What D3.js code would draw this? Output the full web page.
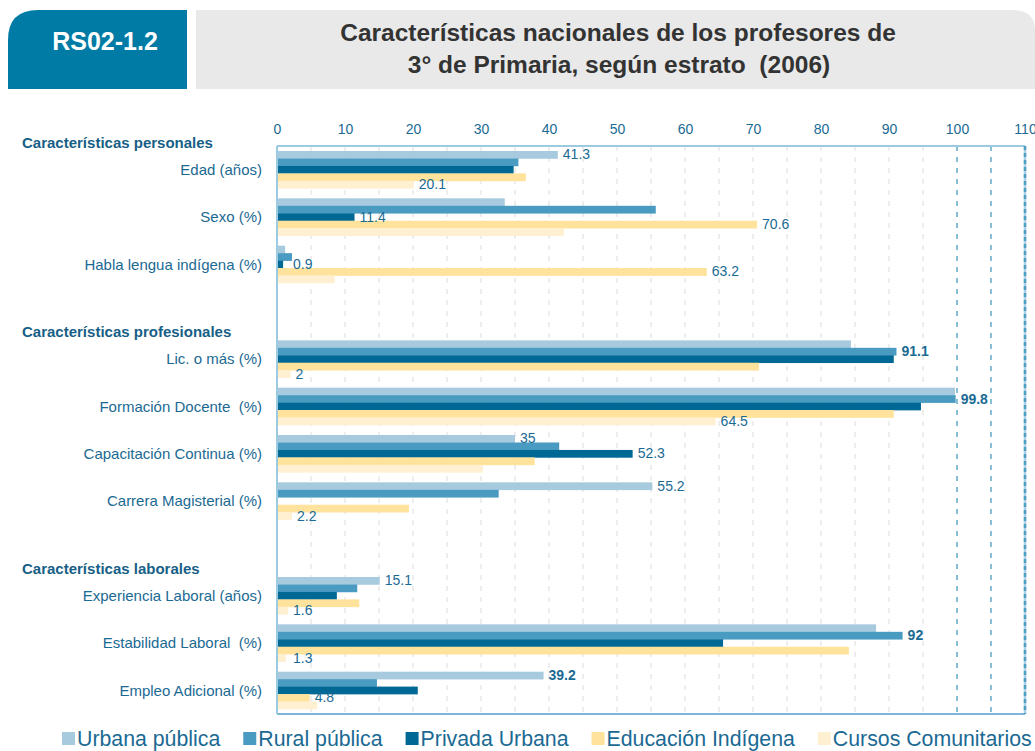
<!DOCTYPE html>
<html lang="es">
<head>
<meta charset="UTF-8">
<title>RS02-1.2</title>
<script src="https://d3js.org/d3.v7.min.js"></script>
<style>
  body { margin: 0; background: #fff; }
  svg text { font-family: "Liberation Sans", Arial, Helvetica, sans-serif; }
</style>
</head>
<body>
<svg id="chart" width="1035" height="751"></svg>
<script>
// ---- data ----
const sections = ["Características personales", "Características profesionales", "Características laborales"];
const categories = [
  "Edad (años)", "Sexo (%)", "Habla lengua indígena (%)",
  "Lic. o más (%)", "Formación Docente  (%)", "Capacitación Continua (%)", "Carrera Magisterial (%)",
  "Experiencia Laboral (años)", "Estabilidad Laboral  (%)", "Empleo Adicional (%)"
];
const categorySection = [0, 0, 0, 1, 1, 1, 1, 2, 2, 2];

const seriesNames = ["Urbana pública", "Rural pública", "Privada Urbana", "Educación Indígena", "Cursos Comunitarios"];
const seriesColors = ["#a7cadf", "#4a9bc1", "#006894", "#ffe29b", "#fff0d1"];

const urbana   = [41.3, 33.5, 1.2, 84.4, 99.7, 35.0, 55.2, 15.1, 88.1, 39.2];
const rural    = [35.5, 55.7, 2.2, 91.1, 99.8, 41.5, 32.6, 11.8, 92.0, 14.7];
const privada  = [34.8, 11.4, 0.9, 90.7, 94.7, 52.3, null, 8.8, 65.6, 20.7];
const indigena = [36.6, 70.6, 63.2, 70.9, 90.7, 37.9, 19.4, 12.1, 84.1, 4.8];
const cursos   = [20.1, 42.2, 8.5, 2.0, 64.5, 30.3, 2.2, 1.6, 1.3, 5.9];
const seriesValues = [urbana, rural, privada, indigena, cursos];

// which series carry a value label in each category
const labelledSeries = [[0, 4], [3, 2], [3, 2], [1, 4], [1, 4], [0, 2], [0, 4], [0, 4], [1, 4], [0, 3]];
const boldLabels = ["91.1", "99.8", "92", "39.2"];

const xTicks = d3.range(0, 111, 10);
const gridTicks = d3.range(5, 110, 5);

// ---- layout ----
const svg = d3.select("#chart");
const textBlue = "#1b6a93";
const plot = { left: 277, right: 1025, top: 146, bottom: 714 };

// header
svg.append("path")
  .attr("d", "M8,89 L8,40 Q8,10 38,10 L187,10 L187,89 Z")
  .attr("fill", "#007ba5");
svg.append("text")
  .attr("x", 105).attr("y", 50)
  .attr("text-anchor", "middle")
  .attr("font-size", "25px").attr("font-weight", "bold")
  .attr("fill", "#fff")
  .text("RS02-1.2");

svg.append("path")
  .attr("d", "M196,10 L1012,10 Q1035,10 1035,30 L1035,89 L196,89 Z")
  .attr("fill", "#e8e9e8");
svg.append("text")
  .attr("x", 618).attr("y", 41)
  .attr("text-anchor", "middle")
  .attr("font-size", "24.5px").attr("font-weight", "bold")
  .attr("fill", "#333")
  .text("Características nacionales de los profesores de");
svg.append("text")
  .attr("x", 619).attr("y", 73)
  .attr("text-anchor", "middle")
  .attr("font-size", "24.5px").attr("font-weight", "bold")
  .attr("fill", "#333")
  .attr("xml:space", "preserve")
  .style("white-space", "pre")
  .text("3° de Primaria, según estrato  (2006)");

// slots: categories plus one empty slot before each new section
const slots = [];
categories.forEach((c, i) => {
  if (i > 0 && categorySection[i] !== categorySection[i - 1]) slots.push("gap" + i);
  slots.push(c);
});

const x = d3.scaleLinear().domain([0, 110]).range([plot.left, plot.right]);
const y = d3.scaleBand().domain(slots).range([plot.top, plot.bottom])
  .paddingInner(0.212).paddingOuter(0.106);
const ySub = d3.scaleBand().domain(d3.range(seriesNames.length)).range([0, y.bandwidth()]);

// grid
svg.append("g").selectAll("line")
  .data(gridTicks)
  .enter().append("line")
  .attr("x1", d => x(d)).attr("x2", d => x(d))
  .attr("y1", plot.top).attr("y2", plot.bottom)
  .attr("stroke", d => d >= 100 ? "#4a9bc1" : "#dcdcdc")
  .attr("stroke-width", d => d >= 100 ? 1.3 : 1)
  .attr("stroke-dasharray", "5,6");

// bars
const barData = [];
categories.forEach((c, i) => {
  seriesValues.forEach((vals, s) => {
    if (vals[i] != null) barData.push({ cat: c, i, s, v: vals[i] });
  });
});

svg.append("g").selectAll("rect")
  .data(barData)
  .enter().append("rect")
  .attr("x", x(0))
  .attr("y", d => y(d.cat) + ySub(d.s))
  .attr("width", d => x(d.v) - x(0))
  .attr("height", ySub.bandwidth() + 0.3)
  .attr("fill", d => seriesColors[d.s]);

// frame
svg.append("line")
  .attr("x1", plot.left).attr("x2", plot.right)
  .attr("y1", plot.top).attr("y2", plot.top)
  .attr("stroke", "#9ccae1").attr("stroke-width", 2);
svg.append("line")
  .attr("x1", plot.left).attr("x2", plot.right)
  .attr("y1", plot.bottom).attr("y2", plot.bottom)
  .attr("stroke", "#7ab7d6").attr("stroke-width", 2);
svg.append("line")
  .attr("x1", plot.left).attr("x2", plot.left)
  .attr("y1", plot.top).attr("y2", plot.bottom)
  .attr("stroke", "#9ccae1").attr("stroke-width", 2);
svg.append("line")
  .attr("x1", plot.right).attr("x2", plot.right)
  .attr("y1", plot.top).attr("y2", plot.bottom)
  .attr("stroke", "#a9d0e4").attr("stroke-width", 2.5);
svg.append("line")
  .attr("x1", plot.right).attr("x2", plot.right)
  .attr("y1", plot.top).attr("y2", plot.bottom)
  .attr("stroke", "#4f9fc5").attr("stroke-width", 2.5)
  .attr("stroke-dasharray", "4,3");

// top axis
const axis = svg.append("g")
  .attr("transform", `translate(0,${plot.top})`)
  .call(d3.axisTop(x).tickValues(xTicks).tickSize(0).tickPadding(12));
axis.select(".domain").remove();
axis.selectAll("text")
  .attr("font-size", "14px")
  .attr("fill", textBlue)
  .style("font-family", '"Liberation Sans", Arial, sans-serif');

// value labels
const labelData = [];
labelledSeries.forEach((list, i) => {
  list.forEach(s => {
    labelData.push({ cat: categories[i], s, v: seriesValues[s][i] });
  });
});
svg.append("g").selectAll("text")
  .data(labelData)
  .enter().append("text")
  .attr("x", d => Math.max(x(d.v) + 5, x(0) + 16))
  .attr("y", d => y(d.cat) + ySub(d.s) + ySub.bandwidth() / 2 + 1)
  .attr("dominant-baseline", "middle")
  .attr("font-size", "14px")
  .attr("font-weight", d => boldLabels.includes(String(d.v)) ? "bold" : "normal")
  .attr("fill", textBlue)
  .text(d => String(d.v));

// category labels
svg.append("g").selectAll("text")
  .data(categories)
  .enter().append("text")
  .attr("x", 262)
  .attr("y", d => y(d) + y.bandwidth() / 2 + 1.5)
  .attr("text-anchor", "end")
  .attr("dominant-baseline", "middle")
  .attr("font-size", "15px")
  .attr("fill", textBlue)
  .attr("xml:space", "preserve")
  .style("white-space", "pre")
  .text(d => d);

// section headers
svg.append("g").selectAll("text")
  .data(sections)
  .enter().append("text")
  .attr("x", 22)
  .attr("y", (d, k) => y(categories[categorySection.indexOf(k)]) - 7)
  .attr("dominant-baseline", "middle")
  .attr("font-size", "15px")
  .attr("font-weight", "bold")
  .attr("fill", "#175f87")
  .text(d => d);

// legend
const legend = svg.append("g");
let lx = 62;
seriesNames.forEach((name, s) => {
  legend.append("rect")
    .attr("x", lx).attr("y", 732)
    .attr("width", 13).attr("height", 13)
    .attr("fill", seriesColors[s]);
  const t = legend.append("text")
    .attr("x", lx + 15).attr("y", 746)
    .attr("font-size", "21.3px")
    .attr("fill", textBlue)
    .text(name);
  lx += 15 + t.node().getComputedTextLength() + 23;
});
</script>
</body>
</html>
